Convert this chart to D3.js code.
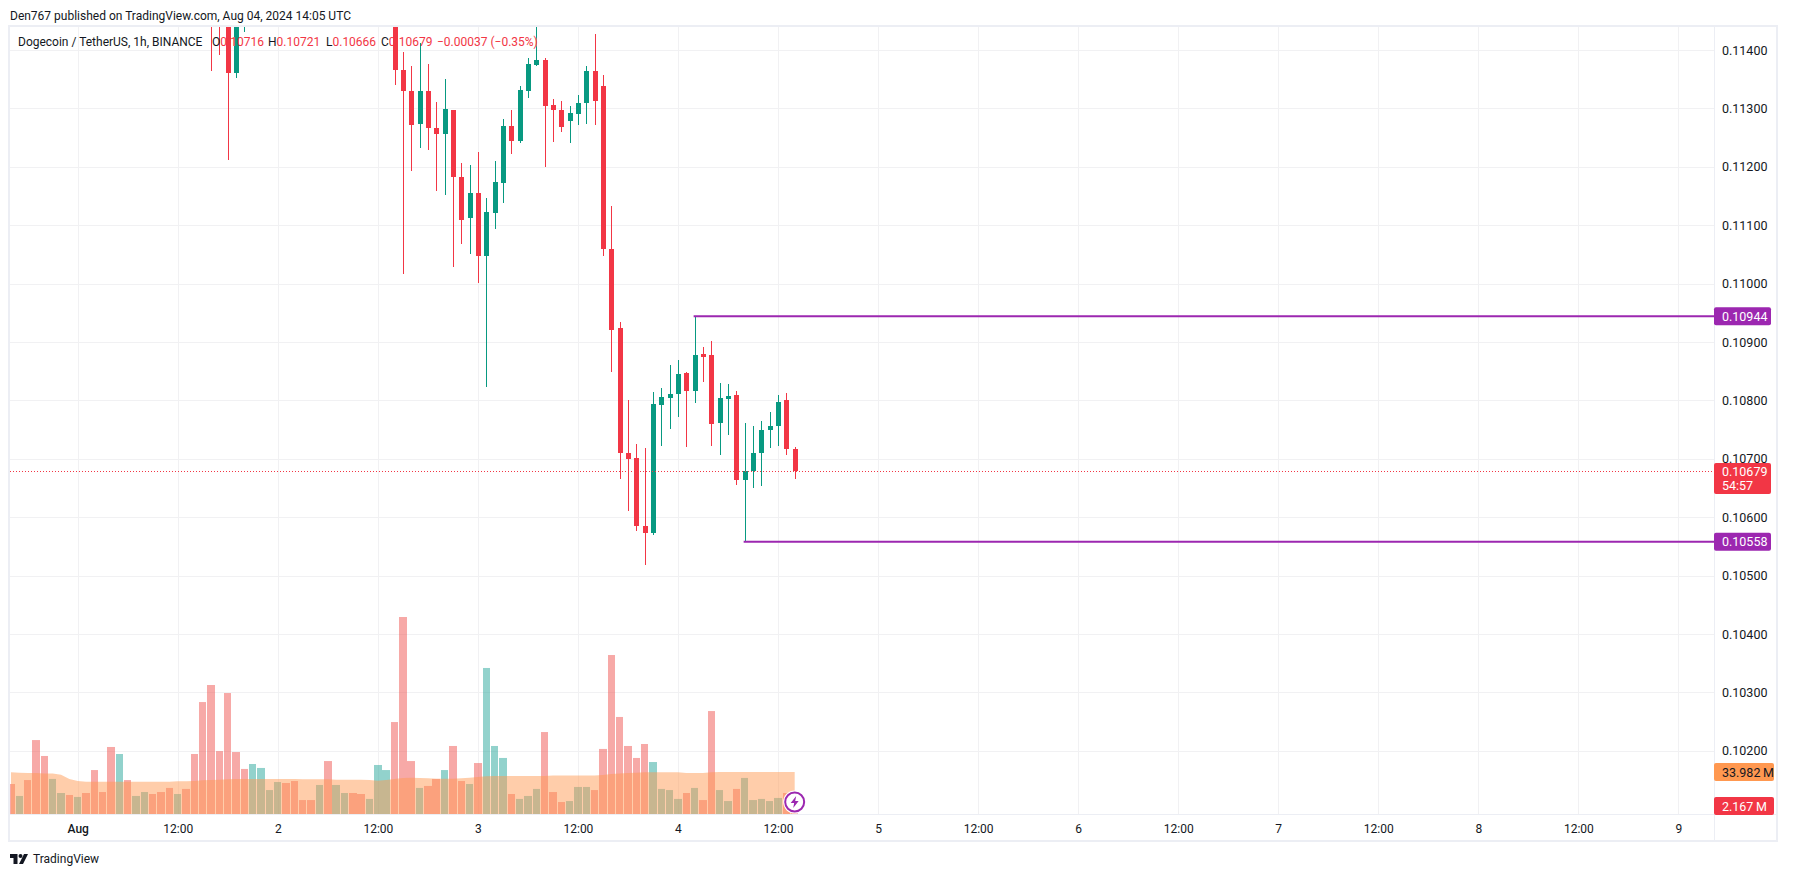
<!DOCTYPE html>
<html>
<head>
<meta charset="utf-8">
<title>DOGE/USDT</title>
<script src="https://cdn.jsdelivr.net/npm/d3@7"></script>
<style>
    body { margin: 0; background: #fff; }
    text { font-family: Roboto, sans-serif; }
</style>
</head>
<body>
<svg id="chart" width="1794" height="877"></svg>
<script>
// hours since Aug 1 00:00 UTC, prices in 1e-5 USDT, volumes in millions

const timeTicks = [0, 12, 24, 36, 48, 60, 72, 84, 96, 108, 120, 132, 144, 156, 168, 180, 192];
const timeLabels = ["Aug", "12:00", "2", "12:00", "3", "12:00", "4", "12:00", "5", "12:00", "6", "12:00", "7", "12:00", "8", "12:00", "9"];
const priceTicks = [11400, 11300, 11200, 11100, 11000, 10900, 10800, 10700, 10600, 10500, 10400, 10300, 10200];

// only the candles inside the visible price range
const candleHours = [16, 17, 18, 19, 20, 38, 39, 40, 41, 42, 43, 44, 45, 46, 47, 48, 49, 50, 51, 52, 53, 54, 55, 56, 57, 58, 59, 60, 61, 62, 63, 64, 65, 66, 67, 68, 69, 70, 71, 72, 73, 74, 75, 76, 77, 78, 79, 80, 81, 82, 83, 84, 85, 86];
const open = [11470, 11460, 11470, 11361, 11445, 11460, 11366, 11330, 11273, 11330, 11266, 11256, 11297, 11183, 11112, 11155, 11047, 11121, 11172, 11270, 11244, 11330, 11374, 11383, 11306, 11297, 11278, 11290, 11309, 11364, 11338, 11059, 10924, 10710, 10701, 10585, 10573, 10792, 10804, 10811, 10847, 10816, 10879, 10878, 10761, 10802, 10809, 10664, 10679, 10710, 10749, 10756, 10801, 10716];
const high = [11480, 11470, 11480, 11480, 11480, 11470, 11397, 11373, 11412, 11376, 11311, 11350, 11297, 11207, 11203, 11225, 11147, 11210, 11282, 11297, 11338, 11386, 11445, 11386, 11316, 11313, 11304, 11323, 11373, 11427, 11357, 11133, 10934, 10801, 10725, 10718, 10814, 10821, 10861, 10869, 10849, 10944, 10891, 10902, 10830, 10828, 10816, 10761, 10756, 10765, 10780, 10809, 10813, 10721];
const low = [11364, 11391, 11212, 11352, 11431, 11340, 11016, 11193, 11232, 11229, 11159, 11152, 11028, 11068, 11051, 11001, 10823, 11093, 11138, 11222, 11241, 11318, 11373, 11200, 11242, 11260, 11241, 11272, 11273, 11272, 11047, 10849, 10665, 10611, 10576, 10518, 10570, 10722, 10751, 10772, 10720, 10796, 10832, 10722, 10707, 10741, 10655, 10558, 10650, 10653, 10719, 10722, 10707, 10666];
const close = [11445, 11445, 11361, 11470, 11470, 11366, 11329, 11272, 11330, 11267, 11256, 11299, 11183, 11109, 11155, 11047, 11123, 11174, 11270, 11244, 11332, 11376, 11383, 11304, 11297, 11268, 11292, 11309, 11364, 11313, 11059, 10921, 10710, 10700, 10585, 10573, 10794, 10806, 10811, 10845, 10816, 10878, 10874, 10760, 10804, 10808, 10664, 10679, 10710, 10749, 10756, 10797, 10717, 10679];

const volumeStartHour = -8;
const volumes = [24.3, 14.6, 27.5, 59.9, 47.0, 28.4, 17.0, 15.4, 13.8, 17.0, 35.6, 17.8, 54.3, 48.6, 27.5, 14.6, 17.8, 16.2, 17.8, 21.1, 16.2, 20.3, 48.6, 90.7, 104.5, 51.0, 98.0, 50.2, 36.5, 40.5, 37.3, 19.4, 25.9, 25.1, 26.7, 11.3, 11.3, 23.5, 42.9, 23.5, 17.0, 17.0, 16.2, 12.2, 39.7, 35.6, 74.5, 159.6, 42.9, 21.1, 22.7, 28.4, 35.6, 55.1, 26.7, 24.3, 41.3, 118.3, 55.1, 45.4, 16.2, 12.2, 14.6, 20.3, 66.4, 17.8, 9.7, 10.5, 21.9, 21.9, 19.4, 52.7, 128.8, 78.6, 55.1, 45.4, 56.7, 42.1, 20.3, 19.4, 12.2, 17.0, 21.1, 11.3, 83.4, 19.4, 10.5, 20.3, 29.2, 11.3, 12.2, 10.5, 13.0, 17.0, 2.167];
const volumeUp = [0, 1, 0, 0, 0, 1, 1, 0, 1, 0, 0, 0, 0, 1, 0, 1, 1, 0, 0, 0, 1, 0, 0, 0, 0, 0, 0, 0, 0, 1, 1, 1, 1, 0, 0, 0, 0, 1, 0, 1, 1, 0, 0, 1, 1, 1, 0, 0, 0, 1, 0, 0, 1, 0, 0, 1, 0, 1, 1, 1, 0, 1, 1, 1, 0, 0, 0, 1, 1, 1, 0, 0, 0, 0, 0, 0, 0, 1, 1, 1, 1, 0, 1, 0, 0, 1, 1, 0, 1, 1, 1, 1, 1, 0, 0];
const volumeMA = [33.8, 33.5, 33.2, 33.2, 32.9, 32.9, 31.9, 28.4, 26.7, 26.2, 26.2, 26.2, 26.2, 26.2, 26.2, 26.2, 26.2, 26.2, 26.2, 26.2, 26.5, 26.5, 26.7, 27.3, 27.5, 27.8, 28.1, 28.4, 28.4, 28.4, 28.4, 28.4, 28.4, 28.4, 28.4, 28.1, 28.1, 28.1, 28.1, 27.8, 27.8, 27.8, 27.8, 27.5, 27.0, 27.5, 28.4, 29.2, 29.4, 29.2, 28.9, 28.6, 28.6, 28.6, 28.9, 29.4, 30.0, 30.5, 30.8, 30.8, 30.8, 30.8, 30.8, 30.8, 30.8, 31.1, 31.1, 31.1, 31.1, 31.1, 31.1, 31.6, 32.4, 32.9, 33.2, 33.5, 33.8, 33.8, 33.8, 33.8, 33.8, 33.2, 33.2, 33.2, 33.8, 34.0, 34.0, 34.0, 34.0, 34.0, 34.0, 34.0, 34.0, 34.0, 33.982];

// horizontal rays drawn on the chart: [start hour, price]
const rayHours = [74, 80];
const rayPrices = [10944, 10558];

const lastPrice = 10679;
const lastVolume = 2.167;
const lastMA = 33.982;

const RED = "#f23645", GREEN = "#089981", PURPLE = "#9c27b0", INK = "#131722";
const GRID = "#f1f1f3", FRAME = "#eceef4";

// plot box
const left = 10, top_ = 27, right = 1714, bottom = 814, frameRight = 1776, frameBottom = 840;

const svg = d3.select("#chart");
const x = d3.scaleLinear().domain([0, 192]).range([77.7, 1678.4]);
const y = d3.scaleLinear().domain([10200, 11400]).range([750.8, 50]);
const yVol = d3.scaleLinear().domain([0, 159.6]).range([bottom, 617]);

svg.append("defs").append("clipPath").attr("id", "plot")
    .append("rect").attr("x", left).attr("y", top_).attr("width", right - left).attr("height", bottom - top_);

// grid
const grid = svg.append("g").attr("stroke", GRID).attr("stroke-width", 1);
grid.selectAll(".v").data(timeTicks).join("line")
    .attr("x1", d => Math.round(x(d)) + 0.5).attr("x2", d => Math.round(x(d)) + 0.5)
    .attr("y1", top_).attr("y2", bottom);
grid.selectAll(".h").data(priceTicks).join("line")
    .attr("x1", left).attr("x2", right)
    .attr("y1", d => Math.round(y(d)) + 0.5).attr("y2", d => Math.round(y(d)) + 0.5);

const plot = svg.append("g").attr("clip-path", "url(#plot)");

// volume bars
const hoursVol = volumes.map((v, i) => volumeStartHour + i);
plot.append("g").selectAll("rect").data(volumes).join("rect")
    .attr("x", (d, i) => Math.round(x(hoursVol[i]) - 3.7))
    .attr("width", (d, i) => Math.round(x(hoursVol[i]) + 3.7) - Math.round(x(hoursVol[i]) - 3.7))
    .attr("y", d => yVol(d))
    .attr("height", d => bottom - yVol(d))
    .attr("fill", (d, i) => volumeUp[i] ? "rgba(38,166,154,.5)" : "rgba(239,83,80,.5)");

// volume moving average area
const maArea = d3.area()
    .x((d, i) => x(hoursVol[i]))
    .y0(bottom)
    .y1(d => yVol(d));
plot.append("path").datum(volumeMA).attr("d", maArea).attr("fill", "rgba(255,152,80,.485)");

// candles
const candles = plot.append("g");
candleHours.forEach((h, i) => {
    const color = close[i] >= open[i] ? GREEN : RED;
    const cx = Math.round(x(h));
    const yTop = Math.round(y(Math.max(open[i], close[i])));
    const yBot = Math.round(y(Math.min(open[i], close[i])));
    candles.append("line")
        .attr("x1", cx + 0.5).attr("x2", cx + 0.5)
        .attr("y1", Math.round(y(high[i]))).attr("y2", Math.round(y(low[i])))
        .attr("stroke", color).attr("stroke-width", 1);
    candles.append("rect")
        .attr("x", cx - 2).attr("width", 5)
        .attr("y", yTop).attr("height", Math.max(1, yBot - yTop))
        .attr("fill", color);
});

// last price line
plot.append("line")
    .attr("x1", left).attr("x2", right)
    .attr("y1", Math.round(y(lastPrice)) + 0.5).attr("y2", Math.round(y(lastPrice)) + 0.5)
    .attr("stroke", RED).attr("stroke-width", 1).attr("stroke-dasharray", "1 2");

// rays
plot.selectAll(".ray").data(rayPrices).join("line")
    .attr("x1", (d, i) => x(rayHours[i]) - 1).attr("x2", right)
    .attr("y1", d => y(d)).attr("y2", d => y(d))
    .attr("stroke", PURPLE).attr("stroke-width", 2);

// frame
svg.append("rect").attr("x", left - 1).attr("y", top_ - 1)
    .attr("width", frameRight - left + 2).attr("height", frameBottom - top_ + 2)
    .attr("fill", "none").attr("stroke", FRAME).attr("stroke-width", 2);
svg.append("line").attr("x1", left).attr("x2", frameRight).attr("y1", bottom + 0.5).attr("y2", bottom + 0.5)
    .attr("stroke", FRAME);
svg.append("line").attr("x1", right + 0.5).attr("x2", right + 0.5).attr("y1", top_).attr("y2", frameBottom)
    .attr("stroke", FRAME);

// time axis
const timeAxis = d3.axisBottom(x).tickValues(timeTicks).tickSize(0)
    .tickFormat((d, i) => timeLabels[i]);
const gx = svg.append("g").attr("transform", `translate(0,${bottom + 7})`).call(timeAxis);
gx.select(".domain").remove();
gx.selectAll("text").attr("fill", INK).attr("font-size", 12).attr("font-family", "Roboto, sans-serif");
gx.selectAll("text").filter((d, i) => i === 0).attr("font-weight", 500);

// price axis
const priceAxis = d3.axisRight(y).tickValues(priceTicks).tickSize(0)
    .tickFormat(d => (d / 1e5).toFixed(5));
const gy = svg.append("g").attr("transform", `translate(${right + 8},0)`).call(priceAxis);
gy.select(".domain").remove();
gy.selectAll("text").attr("x", 0).attr("fill", INK).attr("font-size", 12.5).attr("font-family", "Roboto, sans-serif");

// axis badges
function badge(cy, label, fill, color, h = 18, w = 57) {
    svg.append("rect").attr("x", right).attr("y", cy - h / 2).attr("width", w).attr("height", h)
        .attr("rx", 2).attr("fill", fill);
    svg.append("text").attr("x", right + 8).attr("y", cy + 4.5)
        .attr("font-size", 12.5).attr("fill", color).text(label);
}
rayPrices.forEach(p => badge(y(p), (p / 1e5).toFixed(5), PURPLE, "#fff"));
badge(y(lastPrice) + 7.5, "", RED, "#fff", 31);
svg.append("text").attr("x", right + 8).attr("y", y(lastPrice) + 4.5).attr("font-size", 12.5).attr("fill", "#fff")
    .text((lastPrice / 1e5).toFixed(5));
svg.append("text").attr("x", right + 8).attr("y", y(lastPrice) + 18.5).attr("font-size", 12.5).attr("fill", "#fff")
    .text("54:57");
badge(yVol(lastMA), lastMA.toFixed(3) + "\u2009M", "#ff9850", INK, 18, 60);
badge(806, lastVolume.toFixed(3) + "\u2009M", RED, "#fff", 18, 60);

// flash icon on the last bar
const icon = svg.append("g").attr("transform", `translate(${x(86)},802)`);
icon.append("circle").attr("r", 11.5).attr("fill", "#fff");
icon.append("circle").attr("r", 9.5).attr("fill", "#fff").attr("stroke", PURPLE).attr("stroke-width", 2);
icon.append("path").attr("d", "M1.5 -6 L-4 1 L-0.5 1 L-1.5 6 L4 -1 L0.5 -1 Z").attr("fill", PURPLE);

// header and legend
svg.append("text").attr("x", 10).attr("y", 19.5).attr("font-size", 12).attr("fill", INK)
    .text("Den767 published on TradingView.com, Aug 04, 2024 14:05 UTC");
const legend = svg.append("g").attr("font-size", 12);
legend.append("text").attr("x", 18).attr("y", 46).attr("fill", INK).text("Dogecoin / TetherUS, 1h, BINANCE");
[["O", "0.10716", 212], ["H", "0.10721", 268], ["L", "0.10666", 326], ["C", "0.10679", 381]].forEach(([k, v, px]) => {
    const t = legend.append("text").attr("x", px).attr("y", 46);
    t.append("tspan").attr("fill", INK).text(k);
    t.append("tspan").attr("fill", RED).text(v);
});
legend.append("text").attr("x", 437).attr("y", 46).attr("fill", RED).text("\u22120.00037 (\u22120.35%)");

// logo
const logo = svg.append("g").attr("transform", "translate(10,853)").attr("fill", INK);
logo.append("path").attr("d", "M0 1 H7.5 V11 H3.5 V5 H0 Z M14 1 L9 11 H13 L18 1 Z");
logo.append("circle").attr("cx", 10.5).attr("cy", 3).attr("r", 2);
svg.append("text").attr("x", 33).attr("y", 863).attr("font-size", 12).attr("fill", INK)
    .text("TradingView");
</script>
</body>
</html>
